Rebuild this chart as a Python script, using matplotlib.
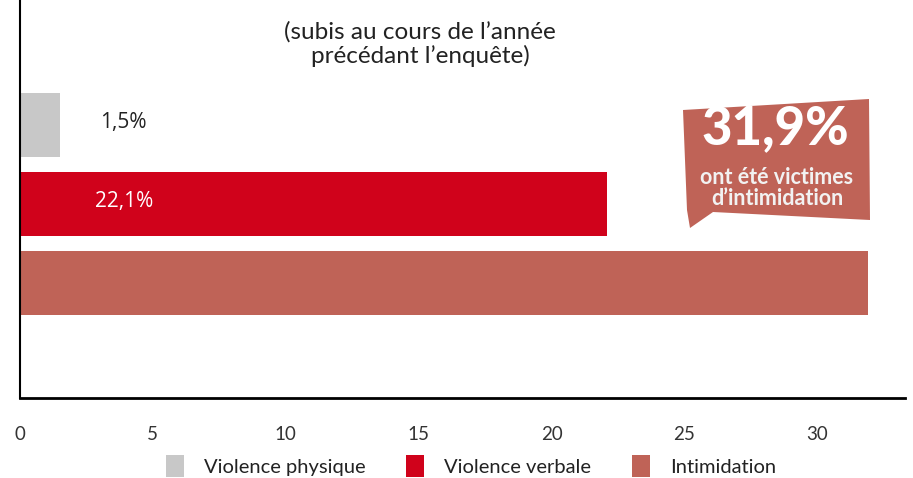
import matplotlib.pyplot as plt
from matplotlib.patches import Polygon

# data
categories = ['Violence physique', 'Violence verbale', 'Intimidation']
values = [1.5, 22.1, 31.9]
bar_labels = ['1,5%', '22,1%', None]
colors = ['#C8C8C8', '#D0021B', '#BF6357']
xticks = [0, 5, 10, 15, 20, 25, 30]

W, H = 913, 478
plt.rcParams['font.family'] = ['Lato', 'DejaVu Sans']

fig = plt.figure(figsize=(W / 100, H / 100), dpi=100)
ax = fig.add_axes([20 / W, 80 / H, 885 / W, 398 / H])

ypos = list(range(len(categories)))
ax.barh(ypos, values, height=0.81, color=colors, label=categories)

ax.set_xlim(0, 33.3)
ax.set_ylim(3.456, -1.582)

for y, v, lab in zip(ypos, values, bar_labels):
    if lab is None:
        continue
    txt_color = '#222222' if v < 4 else 'white'
    ax.text(3.9, y - 0.03, lab, ha='center', va='center', fontsize=15,
            color=txt_color, family=['Open Sans', 'DejaVu Sans'])

ax.set_xticks(xticks)
ax.set_yticks([])
ax.tick_params(axis='x', length=0, pad=20, labelsize=13.5, labelcolor='#333333')
for s in ['top', 'right']:
    ax.spines[s].set_visible(False)
ax.spines['bottom'].set_linewidth(2)
ax.spines['left'].set_linewidth(1.5)

# title
fig.text(420 / W, 1 - 44 / H, "(subis au cours de l’année\nprécédant l’enquête)",
         ha='center', va='center', fontsize=17.5, color='#222222', linespacing=1.1)

# callout bubble
pts = [(683, 110), (869, 99), (870, 220), (713, 212), (690, 228), (687, 210)]
poly = Polygon([(x / W, 1 - y / H) for x, y in pts], closed=True,
               transform=fig.transFigure, facecolor='#BF6357', edgecolor='none')
fig.patches.append(poly)
fig.text(775 / W, 1 - 129 / H, '31,9%', ha='center', va='center',
         fontsize=38, fontweight='black', color='white')
fig.text(777 / W, 1 - 188 / H, 'ont été victimes\nd’intimidation', ha='center', va='center',
         fontsize=15.5, fontweight='bold', color='#F2F2F2', linespacing=0.95)

# legend
fig.legend(loc='center', bbox_to_anchor=(471 / W, 1 - 466 / H), ncol=3, frameon=False,
           fontsize=14.5, handlelength=0.9, handleheight=1.3, columnspacing=2.0,
           handletextpad=1.0, labelcolor='#222222')

fig.savefig('out.png', dpi=100)
